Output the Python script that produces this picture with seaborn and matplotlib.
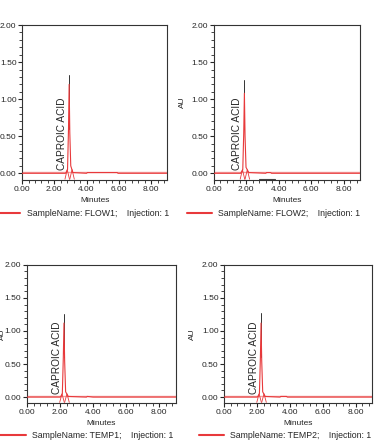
import numpy as np
import seaborn as sns
import matplotlib.pyplot as plt
from matplotlib.ticker import MultipleLocator, FormatStrFormatter

sns.set_style("white")
plt.rcParams['font.family'] = ['Liberation Sans', 'DejaVu Sans']

# sample names and injections
samples = ["FLOW1", "FLOW2", "TEMP1", "TEMP2"]
injections = [1, 1, 1, 1]
compound = "CAPROIC ACID"

# chromatogram traces (minutes, AU)
t_flow1 = [0.0, 2.70, 2.82, 2.88, 2.92, 2.96, 3.02, 3.15, 4.0, 4.05, 5.9, 5.95, 9.0]
au_flow1 = [0.0, 0.0, 0.05, 0.60, 1.20, 0.55, 0.10, 0.01, 0.0, 0.01, 0.01, 0.0, 0.0]
t_flow2 = [0.0, 1.65, 1.78, 1.84, 1.88, 1.92, 1.98, 2.15, 3.2, 3.25, 3.5, 3.55, 9.0]
au_flow2 = [0.0, 0.0, 0.05, 0.55, 1.08, 0.50, 0.08, 0.01, 0.0, 0.01, 0.01, 0.0, 0.0]
t_temp1 = [0.0, 2.02, 2.14, 2.20, 2.24, 2.28, 2.34, 2.50, 3.6, 3.65, 4.0, 4.05, 9.0]
au_temp1 = [0.0, 0.0, 0.05, 0.60, 1.12, 0.55, 0.08, 0.01, 0.0, 0.01, 0.0, 0.0, 0.0]
t_temp2 = [0.0, 2.03, 2.15, 2.21, 2.25, 2.29, 2.35, 2.50, 3.4, 3.45, 3.8, 3.85, 9.0]
au_temp2 = [0.0, 0.0, 0.05, 0.60, 1.12, 0.55, 0.08, 0.01, 0.0, 0.01, 0.01, 0.0, 0.0]

# dark drift segment seen on FLOW2 (minutes, AU)
drift_t = [2.80, 3.75]
drift_au = [-0.08, -0.08]

# apex (minutes, AU) of the integrated peak
apex_time = [2.92, 1.88, 2.24, 2.25]
apex_au = [1.32, 1.26, 1.25, 1.27]
# peak start / end marks (minutes)
peak_start = [2.80, 1.76, 2.12, 2.13]
peak_end = [3.10, 2.06, 2.42, 2.43]

traces = [(t_flow1, au_flow1), (t_flow2, au_flow2), (t_temp1, au_temp1), (t_temp2, au_temp2)]
show_au = [False, True, True, True]

# axes boxes in figure fractions
rects = [
    [0.059, 0.591, 0.388, 0.352],
    [0.572, 0.591, 0.390, 0.352],
    [0.072, 0.084, 0.398, 0.314],
    [0.599, 0.084, 0.396, 0.314],
]
legend_x = [-0.186, -0.185, -0.18, -0.17]
legend_y = [-0.19, -0.19, -0.205, -0.205]

red = "#e8393b"
pale = "#f3a0a0"

fig = plt.figure(figsize=(3.74, 4.40), dpi=100)

for i, rect in enumerate(rects):
    ax = fig.add_axes(rect)
    t, au = traces[i]
    label = f"SampleName: {samples[i]};    Injection: {injections[i]}"
    # baseline
    ax.axhline(0.012, color=pale, lw=1.0, zorder=1)
    sns.lineplot(x=t, y=au, ax=ax, color=red, lw=0.8, sort=False,
                 estimator=None, label=label, zorder=3)
    if i == 1:
        ax.plot(drift_t, drift_au, color="#444444", lw=0.8, zorder=2)
    # apex tip
    ax.plot([apex_time[i], apex_time[i]], [0.6, apex_au[i]], color="#333333", lw=0.7, zorder=2)
    # peak start / end markers
    for px in [peak_start[i], peak_end[i]]:
        ax.plot([px - 0.14, px, px + 0.14], [-0.08, 0.05, -0.08], color=red, lw=0.6, zorder=2)
    ax.text(apex_time[i] - 0.12, 0.04, compound, rotation=90, ha="right", va="bottom",
            fontsize=7.3)

    ax.set_xlim(0, 9.0)
    ax.set_ylim(-0.09, 2.0)
    ax.xaxis.set_major_locator(MultipleLocator(2))
    ax.xaxis.set_minor_locator(MultipleLocator(0.4))
    ax.yaxis.set_major_locator(MultipleLocator(0.5))
    ax.yaxis.set_minor_locator(MultipleLocator(0.1))
    ax.xaxis.set_major_formatter(FormatStrFormatter("%.2f"))
    ax.yaxis.set_major_formatter(FormatStrFormatter("%.2f"))
    ax.tick_params(which="major", direction="out", length=3, width=0.8, labelsize=6, pad=1,
                   bottom=True, left=True)
    ax.tick_params(which="minor", direction="out", length=2, width=0.6, bottom=True, left=True)
    for s in ax.spines.values():
        s.set_color("#333333")
        s.set_linewidth(0.8)
    ax.set_xlabel("Minutes", fontsize=6, labelpad=3)
    ax.set_ylabel("AU" if show_au[i] else "", fontsize=6)
    if i == 2:
        ax.yaxis.set_label_coords(-0.14, 0.5)

    ax.legend(loc="upper left", bbox_to_anchor=(legend_x[i], legend_y[i]), frameon=False,
              fontsize=6.3, handlelength=2.9, handletextpad=0.7, borderaxespad=0, borderpad=0)
    leg = ax.get_legend()
    for ln in leg.get_lines():
        ln.set_linewidth(1.5)

fig.savefig("out.png", dpi=100)
